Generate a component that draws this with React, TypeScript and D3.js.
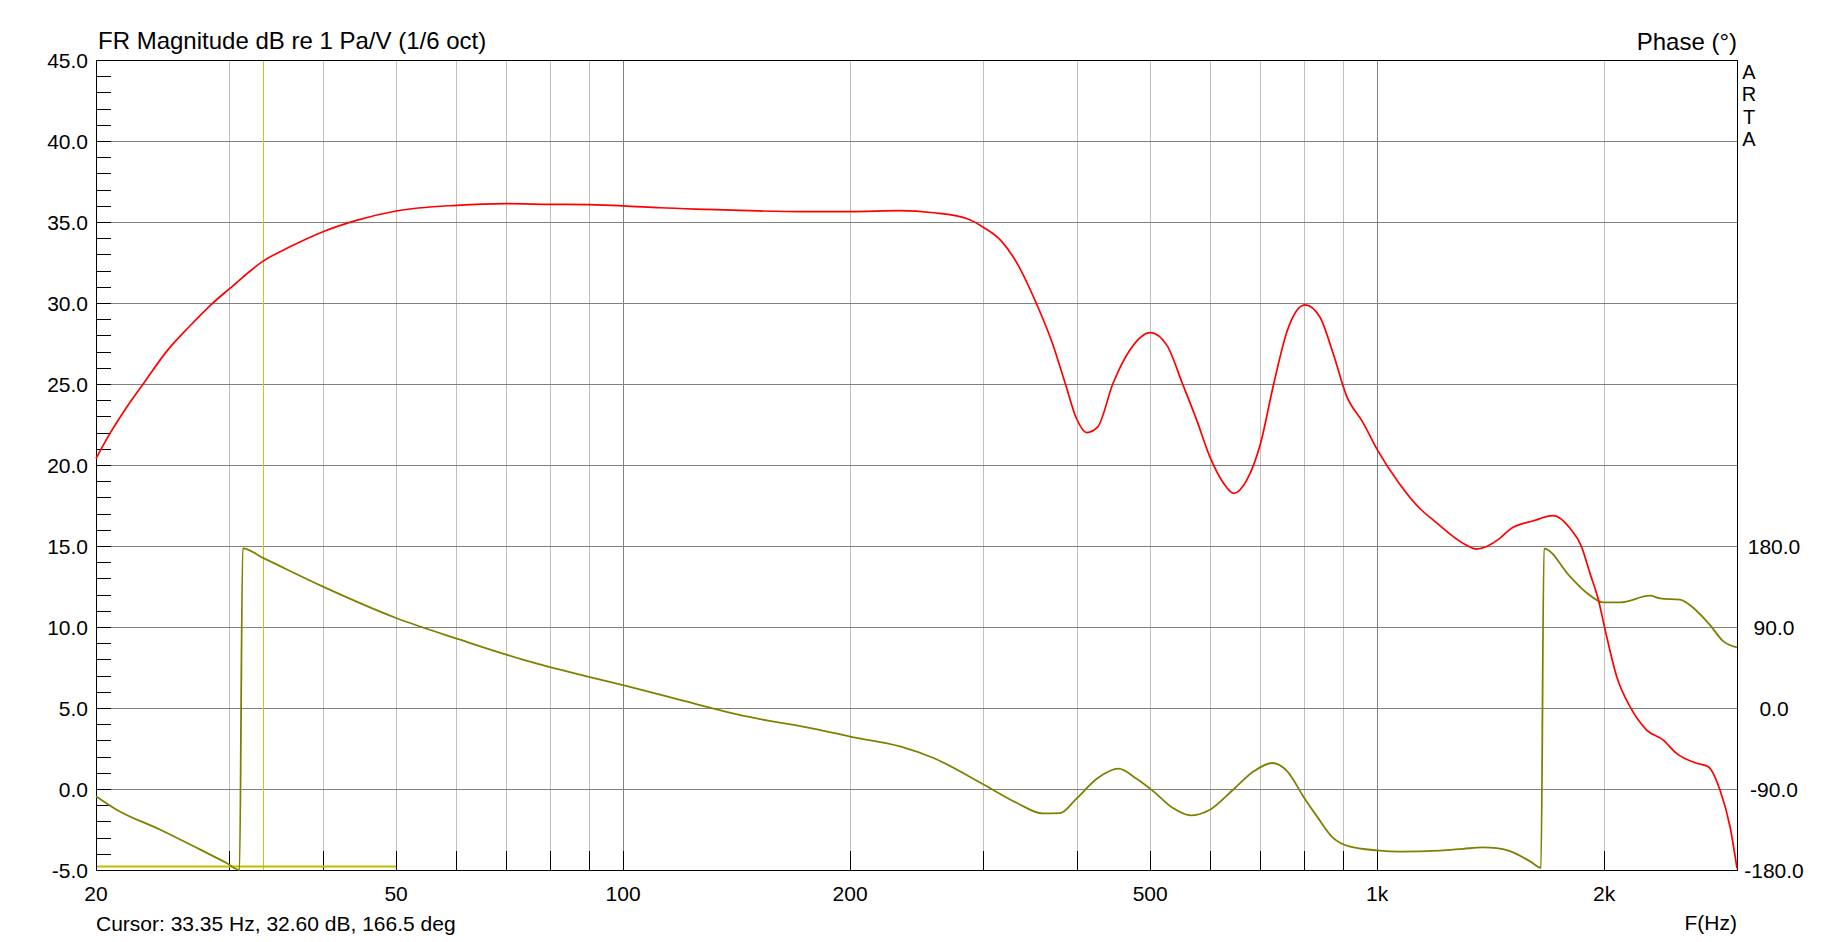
import * as d3 from 'd3';

// magnitude, dB re 1 Pa/V (1/6 oct)
const magFreq = [20, 20.9, 21.7, 23.1, 24.8, 26.6, 28.5, 30.1, 33.35, 36.1, 40, 44.3, 50, 60.2, 70, 80, 90, 100, 112, 129, 147, 172, 200, 233, 258, 286, 301, 317, 333, 353, 371, 386, 399, 412, 426, 446, 470, 500, 526, 552, 576, 600, 625, 645, 672, 700, 729, 760, 802, 839, 874, 910, 958, 1000, 1072, 1140, 1187, 1312, 1354, 1454, 1500, 1612, 1712, 1802, 1866, 1915, 1965, 2006, 2078, 2164, 2277, 2395, 2494, 2652, 2748, 2848, 2937, 3000];
const magDb = [20.4, 22.0, 23.2, 25.0, 27.0, 28.55, 29.95, 30.9, 32.6, 33.45, 34.4, 35.1, 35.68, 36.03, 36.13, 36.09, 36.07, 36.0, 35.88, 35.78, 35.7, 35.64, 35.64, 35.7, 35.57, 35.2, 34.65, 33.85, 32.45, 30.0, 27.5, 25.0, 22.9, 22.0, 22.35, 25.0, 27.1, 28.17, 27.4, 25.0, 22.8, 20.5, 18.9, 18.25, 19.1, 21.3, 25.0, 28.3, 29.88, 29.15, 26.9, 24.3, 22.6, 20.95, 18.8, 17.3, 16.6, 15.06, 14.81, 15.47, 16.03, 16.56, 16.87, 16.09, 14.96, 13.31, 11.67, 9.81, 6.93, 5.08, 3.64, 3.02, 2.2, 1.59, 1.38, -0.06, -2.33, -4.9];

// phase, degrees (wrapped)
const phaseFreq = [20, 21.3, 24.3, 27.5, 29.8, 31.0, 31.3, 33.35, 40, 50, 60.8, 74.4, 88.9, 100, 118, 146.5, 181.5, 200, 233, 258, 301, 333, 360, 380, 398, 426, 454, 478, 505, 536, 566, 600, 644, 686, 726, 760, 798, 832, 874, 918, 1000, 1072, 1211, 1300, 1380, 1440, 1500, 1595, 1649, 1664, 1802, 1897, 1995, 2099, 2301, 2372, 2521, 2626, 2760, 2878, 3000];
const phaseDeg = [-98, -113, -135, -157.4, -172.2, -180, 177.4, 166.5, 134.8, 100, 75.9, 52.6, 35.7, 25.3, 9.8, -9.7, -24, -31.8, -42.7, -55.6, -85.2, -105.6, -117.1, -116.7, -101.9, -77.8, -67.4, -77.8, -92.6, -111.1, -119.3, -113, -90.8, -70.4, -61.1, -70.4, -98.2, -120.4, -144.4, -153.8, -158.2, -159.5, -158.4, -156.5, -154.9, -155.6, -159, -170.4, -177.5, 177, 146, 127.8, 117.3, 117.3, 124.8, 121.8, 120.3, 111.1, 92.6, 74, 67.3];

const gridFreqs = [30, 40, 50, 60, 70, 80, 90, 100, 200, 300, 400, 500, 600, 700, 800, 900, 1000, 2000];
const decadeFreqs = [100, 1000];
const freqLabels = [
  { f: 20, t: '20' },
  { f: 50, t: '50' },
  { f: 100, t: '100' },
  { f: 200, t: '200' },
  { f: 500, t: '500' },
  { f: 1000, t: '1k' },
  { f: 2000, t: '2k' },
];
const dbTicks = d3.range(-5, 46, 5);
const dbMinor = d3.range(-5, 46, 1);
const phaseTicks = [180, 90, 0, -90, -180];
const cursorFreq = 33.35;
const cursorText = 'Cursor: 33.35 Hz, 32.60 dB, 166.5 deg';

const W = 1833;
const H = 942;
const left = 96;
const right = 1737;
const top = 60;
const bottom = 870;
const font = 'Arial, "Liberation Sans", sans-serif';

export default function App() {
  const x = d3.scaleLog().domain([20, 3000]).range([left, right]);
  const y = d3.scaleLinear().domain([-5, 45]).range([bottom, top]);
  const yp = d3.scaleLinear().domain([-180, 180]).range([bottom, y(15)]);

  const magLine = d3.line<number>()
    .x((_, i) => x(magFreq[i]))
    .y(d => y(d))
    .curve(d3.curveMonotoneX);
  const phaseLine = d3.line<number>()
    .x((_, i) => x(phaseFreq[i]))
    .y(d => yp(d))
    .curve(d3.curveMonotoneX);

  const cx = x(cursorFreq);

  return (
    <svg width={W} height={H} style={{ position: 'absolute', left: 0, top: 0, background: '#fff' }} fontFamily={font}>
      {/* vertical grid */}
      {gridFreqs.map(f => (
        <line key={'vg' + f} x1={Math.round(x(f)) + 0.5} x2={Math.round(x(f)) + 0.5} y1={top} y2={bottom}
          stroke={decadeFreqs.includes(f) ? '#808080' : '#c0c0c0'} strokeWidth={1} />
      ))}
      {/* horizontal grid */}
      {dbTicks.map(v => (
        <line key={'hg' + v} x1={left} x2={right} y1={Math.round(y(v)) + 0.5} y2={Math.round(y(v)) + 0.5}
          stroke="#808080" strokeWidth={1} />
      ))}
      {/* left minor ticks */}
      {dbMinor.map(v => (
        <line key={'lt' + v} x1={left} x2={left + 15} y1={Math.round(y(v)) + 0.5} y2={Math.round(y(v)) + 0.5}
          stroke="#000" strokeWidth={1} />
      ))}
      {/* bottom ticks */}
      {gridFreqs.map(f => (
        <line key={'bt' + f} x1={Math.round(x(f)) + 0.5} x2={Math.round(x(f)) + 0.5} y1={bottom} y2={bottom - 19}
          stroke="#000" strokeWidth={1} />
      ))}
      {/* cursor */}
      <line x1={Math.round(cx) + 0.5} x2={Math.round(cx) + 0.5} y1={top} y2={bottom} stroke="#c4c42a" strokeWidth={1} />
      <line x1={left} x2={x(50)} y1={bottom - 3.5} y2={bottom - 3.5} stroke="#c0c000" strokeWidth={2} />
      {/* frame */}
      <rect x={left + 0.5} y={top + 0.5} width={right - left} height={bottom - top} fill="none" stroke="#000" strokeWidth={1} />

      {/* curves */}
      <path d={phaseLine(phaseDeg) ?? ''} fill="none" stroke="#808000" strokeWidth={1.8} />
      <path d={magLine(magDb) ?? ''} fill="none" stroke="#ff0000" strokeWidth={1.7} />

      {/* left axis labels */}
      {dbTicks.map(v => (
        <text key={'ll' + v} x={88} y={y(v)} textAnchor="end" dominantBaseline="central" fontSize={21} fill="#000">
          {v.toFixed(1)}
        </text>
      ))}
      {/* right phase labels */}
      {phaseTicks.map(v => (
        <text key={'rl' + v} x={1774} y={yp(v)} textAnchor="middle" dominantBaseline="central" fontSize={21} fill="#000">
          {v.toFixed(1)}
        </text>
      ))}
      {/* frequency labels */}
      {freqLabels.map(d => (
        <text key={'fl' + d.t} x={x(d.f)} y={901} textAnchor="middle" fontSize={21} fill="#000">{d.t}</text>
      ))}
      <text x={right} y={930} textAnchor="end" fontSize={21} fill="#000">F(Hz)</text>
      <text x={96} y={931} fontSize={21} fill="#000">{cursorText}</text>

      <text x={98} y={49} fontSize={24} fill="#000">FR Magnitude dB re 1 Pa/V (1/6 oct)</text>
      <text x={right} y={50} textAnchor="end" fontSize={24} fill="#000">Phase (°)</text>
      {['A', 'R', 'T', 'A'].map((c, i) => (
        <text key={'arta' + i} x={1749} y={79 + i * 22.4} textAnchor="middle" fontSize={20} fill="#000">{c}</text>
      ))}
    </svg>
  );
}
